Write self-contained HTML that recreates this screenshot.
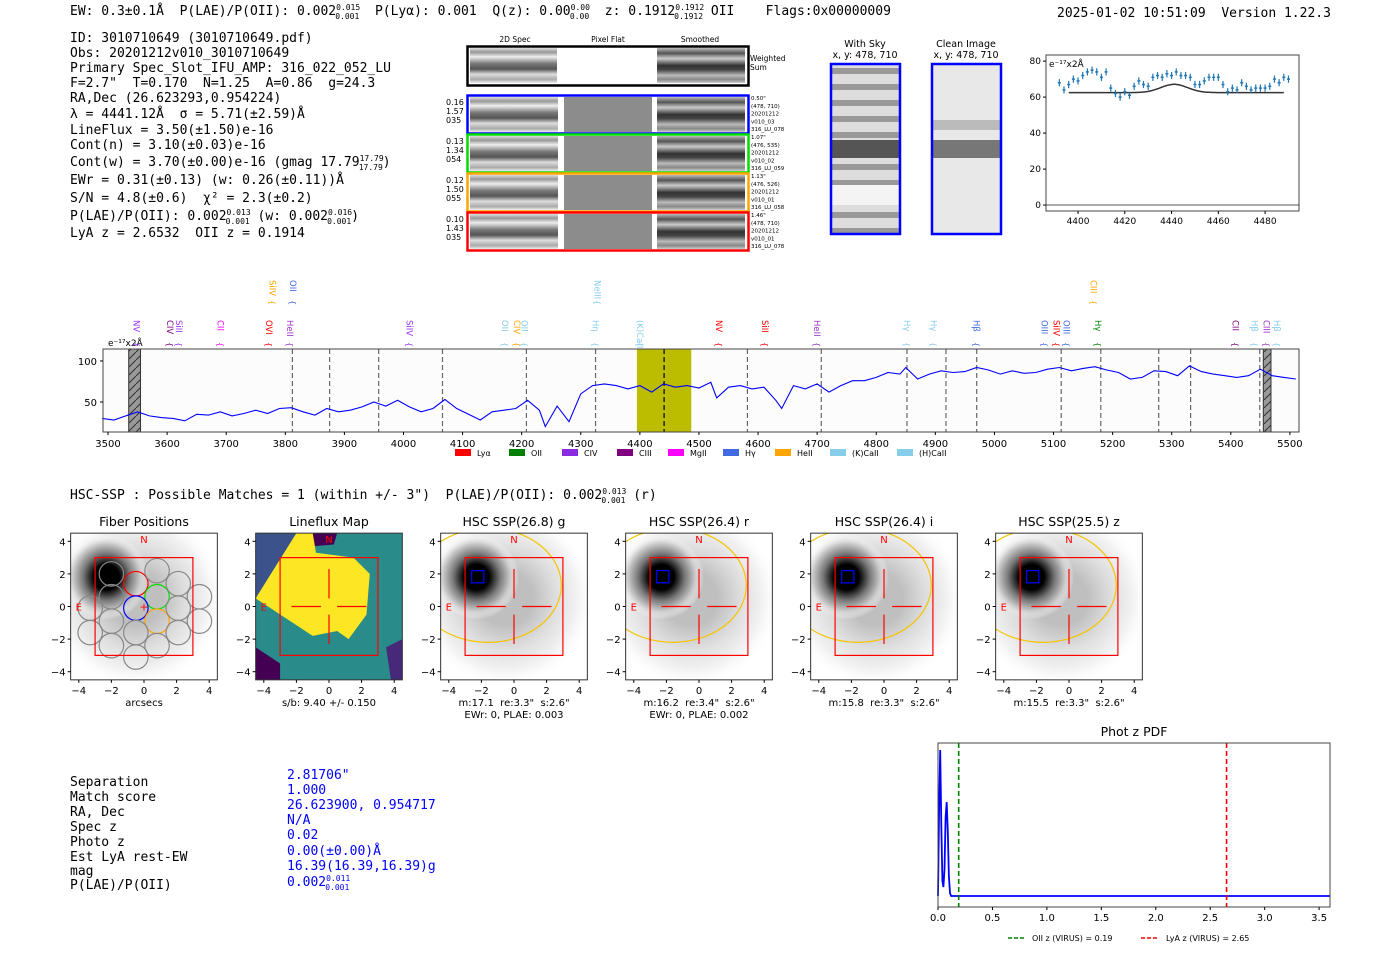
<!DOCTYPE html>
<html><head><meta charset="utf-8">
<style>
html,body{margin:0;padding:0;background:#fff;}
svg{display:block;font-family:"DejaVu Sans","Liberation Sans",sans-serif;}
text{white-space:pre;}
.mono{font-family:"DejaVu Sans Mono","Liberation Mono",monospace;font-size:13px;fill:#000;}
.t{font-size:10px;fill:#000;}
.ttl{font-size:12.5px;fill:#000;}
.blue{fill:#0000ff;}
</style></head>
<body>
<svg id="root" width="1400" height="953" viewBox="0 0 1400 953" xmlns="http://www.w3.org/2000/svg" xml:space="preserve">
<defs>
  <linearGradient id="stripes" x1="0" y1="0" x2="0" y2="1">
    <stop offset="0" stop-color="#ddd"/><stop offset="0.12" stop-color="#999"/><stop offset="0.25" stop-color="#eee"/>
    <stop offset="0.45" stop-color="#777"/><stop offset="0.6" stop-color="#555"/><stop offset="0.75" stop-color="#ddd"/>
    <stop offset="0.9" stop-color="#aaa"/><stop offset="1" stop-color="#eee"/>
  </linearGradient>
  <linearGradient id="stripes2" x1="0" y1="0" x2="0" y2="1">
    <stop offset="0" stop-color="#bbb"/><stop offset="0.15" stop-color="#555"/><stop offset="0.3" stop-color="#ccc"/>
    <stop offset="0.5" stop-color="#333"/><stop offset="0.62" stop-color="#444"/><stop offset="0.78" stop-color="#bbb"/>
    <stop offset="0.9" stop-color="#888"/><stop offset="1" stop-color="#ccc"/>
  </linearGradient>
  <pattern id="sky" width="68" height="16" patternUnits="userSpaceOnUse">
    <rect width="68" height="16" fill="#ddd"/><rect y="4" width="68" height="6" fill="#999"/>
  </pattern>
  <radialGradient id="blob" cx="0.5" cy="0.5" r="0.5">
    <stop offset="0" stop-color="#000"/><stop offset="0.3" stop-color="#000"/><stop offset="0.55" stop-color="#777"/>
    <stop offset="0.8" stop-color="#ccc"/><stop offset="1" stop-color="#fff" stop-opacity="0"/>
  </radialGradient>
  <pattern id="hatch" width="8" height="8" patternUnits="userSpaceOnUse">
    <rect width="8" height="8" fill="#999"/><path d="M0,8 L8,0" stroke="#333" stroke-width="1"/>
  </pattern>
</defs>

<text class="mono" x="70" y="15">EW: 0.3±0.1Å  P(LAE)/P(OII): 0.002<tspan font-size="8" dy="-5">0.015</tspan><tspan font-size="8" dx="-25" dy="9">0.001</tspan><tspan dy="-4">  P(Lyα): 0.001  Q(z): 0.00</tspan><tspan font-size="8" dy="-5">0.00</tspan><tspan font-size="8" dx="-20" dy="9">0.00</tspan><tspan dy="-4">  z: 0.1912</tspan><tspan font-size="8" dy="-5">0.1912</tspan><tspan font-size="8" dx="-30" dy="9">0.1912</tspan><tspan dy="-4"> OII    Flags:0x00000009</tspan></text>
<text class="mono" x="1057" y="17">2025-01-02 10:51:09  Version 1.22.3</text>

<g class="mono">
<text class="mono" x="70" y="42">ID: 3010710649 (3010710649.pdf)</text>
<text class="mono" x="70" y="57">Obs: 20201212v010_3010710649</text>
<text class="mono" x="70" y="72">Primary Spec_Slot_IFU_AMP: 316_022_052_LU</text>
<text class="mono" x="70" y="87">F=2.7"  T=0.170  N=1.25  A=0.86  g=24.3</text>
<text class="mono" x="70" y="102">RA,Dec (26.623293,0.954224)</text>
<text class="mono" x="70" y="118">λ = 4441.12Å  σ = 5.71(±2.59)Å</text>
<text class="mono" x="70" y="134">LineFlux = 3.50(±1.50)e-16</text>
<text class="mono" x="70" y="149">Cont(n) = 3.10(±0.03)e-16</text>
<text class="mono" x="70" y="166">Cont(w) = 3.70(±0.00)e-16 (gmag 17.79<tspan font-size="8" dy="-5">17.79</tspan><tspan font-size="8" dx="-25" dy="9">17.79</tspan><tspan dy="-4">)</tspan></text>
<text class="mono" x="70" y="184">EWr = 0.31(±0.13) (w: 0.26(±0.11))Å</text>
<text class="mono" x="70" y="202">S/N = 4.8(±0.6)  χ² = 2.3(±0.2)</text>
<text class="mono" x="70" y="220">P(LAE)/P(OII): 0.002<tspan font-size="8" dy="-5">0.013</tspan><tspan font-size="8" dx="-25" dy="9">0.001</tspan><tspan dy="-4"> (w: 0.002</tspan><tspan font-size="8" dy="-5">0.016</tspan><tspan font-size="8" dx="-25" dy="9">0.001</tspan><tspan dy="-4">)</tspan></text>
<text class="mono" x="70" y="237">LyA z = 2.6532  OII z = 0.1914</text>
</g>

<g>
<text x="515" y="42" font-size="7.5" text-anchor="middle">2D Spec</text>
<text x="608" y="42" font-size="7.5" text-anchor="middle">Pixel Flat</text>
<text x="700" y="42" font-size="7.5" text-anchor="middle">Smoothed</text>
<rect x="470" y="48" width="87" height="35" fill="url(#stripes)"/>
<rect x="657" y="48" width="88" height="35" fill="url(#stripes2)"/>
<rect x="467.5" y="46.5" width="281" height="39" fill="none" stroke="#000" stroke-width="2.5"/>
<text x="750" y="61" font-size="7.5">Weighted</text><text x="750" y="70" font-size="7.5">Sum</text>
<g id="fibrows"></g>
</g>

<g>
<text x="865" y="47" font-size="9.5" text-anchor="middle">With Sky</text>
<text x="865" y="58" font-size="9.5" text-anchor="middle">x, y: 478, 710</text>
<text x="966" y="47" font-size="9.5" text-anchor="middle">Clean Image</text>
<text x="966" y="58" font-size="9.5" text-anchor="middle">x, y: 478, 710</text>
<rect x="832" y="65" width="67" height="168" fill="url(#sky)"/>
<rect x="832" y="140" width="67" height="18" fill="#555"/>
<rect x="832" y="185" width="67" height="20" fill="#f4f4f4"/>
<rect x="831" y="64" width="69" height="170" fill="none" stroke="#0000ff" stroke-width="2.5"/>
<rect x="933" y="65" width="67" height="168" fill="#e8e8e8"/>
<rect x="933" y="140" width="67" height="18" fill="#777"/>
<rect x="933" y="120" width="67" height="10" fill="#bbb"/>
<rect x="932" y="64" width="69" height="170" fill="none" stroke="#0000ff" stroke-width="2.5"/>
</g>

<g id="zoomplot"></g>
<g id="spectrum"></g>

<text class="mono" x="70" y="499">HSC-SSP : Possible Matches = 1 (within +/- 3")  P(LAE)/P(OII): 0.002<tspan font-size="8" dy="-5">0.013</tspan><tspan font-size="8" dx="-25" dy="9">0.001</tspan><tspan dy="-4"> (r)</tspan></text>

<g id="panels"></g>

<g>
<text class="mono" x="70" y="786">Separation</text><text class="mono blue" x="287" y="779">2.81706"</text>
<text class="mono" x="70" y="801">Match score</text><text class="mono blue" x="287" y="794">1.000</text>
<text class="mono" x="70" y="816">RA, Dec</text><text class="mono blue" x="287" y="809">26.623900, 0.954717</text>
<text class="mono" x="70" y="831">Spec z</text><text class="mono blue" x="287" y="824">N/A</text>
<text class="mono" x="70" y="846">Photo z</text><text class="mono blue" x="287" y="839">0.02</text>
<text class="mono" x="70" y="861">Est LyA rest-EW</text><text class="mono blue" x="287" y="855">0.00(±0.00)Å</text>
<text class="mono" x="70" y="875">mag</text><text class="mono blue" x="287" y="870">16.39(16.39,16.39)g</text>
<text class="mono" x="70" y="889">P(LAE)/P(OII)</text><text class="mono blue" x="287" y="886">0.002<tspan font-size="8" dy="-5">0.011</tspan><tspan font-size="8" dx="-25" dy="9">0.001</tspan></text>
</g>

<g id="pdfplot"></g>
</svg>

<script>
const specWave = [3490,3510,3530,3550,3570,3590,3610,3630,3650,3670,3690,3710,3730,3750,3770,3790,3810,3830,3850,3870,3890,3910,3930,3950,3970,3990,4010,4030,4050,4070,4090,4110,4130,4150,4170,4190,4210,4230,4240,4260,4280,4300,4320,4340,4360,4380,4400,4420,4440,4460,4480,4500,4520,4530,4550,4570,4590,4610,4630,4640,4660,4680,4700,4720,4740,4760,4780,4800,4820,4840,4850,4870,4890,4910,4930,4950,4970,4990,5010,5030,5050,5070,5090,5110,5130,5150,5170,5190,5210,5230,5250,5270,5290,5310,5330,5350,5370,5390,5410,5430,5450,5470,5490,5510];
const specFlux = [30,28,33,38,33,31,30,27,35,34,38,33,36,40,36,42,43,38,34,42,38,40,44,50,45,52,44,38,42,53,42,35,28,38,40,42,52,40,20,45,26,60,70,72,70,66,70,62,72,68,70,67,74,55,68,70,66,68,52,42,70,66,72,62,70,76,76,80,86,84,92,78,84,88,86,87,92,89,84,88,85,86,90,92,88,91,93,89,86,78,80,88,87,82,94,87,84,82,80,82,90,82,80,78];
const specTicks = [3500,3600,3700,3800,3900,4000,4100,4200,4300,4400,4500,4600,4700,4800,4900,5000,5100,5200,5300,5400,5500];
const specYTicks = [50,100];
const lineMarks = [3812,3875,3958,4066,4208,4325,4441,4582,4707,4852,4918,4970,5113,5180,5278,5332,5449];
const lineLabels = [["NV",3548,"#9933ff",0],["CIV",3605,"#800080",0],["SiII",3620,"#9933ff",0],["CII",3690,"#ff00ff",0],["OVI",3772,"#ff0000",0],["HeII",3808,"#9932cc",0],["SiIV",4010,"#9933ff",0],["OII",4172,"#87ceeb",0],["CIV",4192,"#ffa500",0],["OII",4205,"#87ceeb",0],["Hη",4325,"#87ceeb",0],["(K)CaII",4400,"#87ceeb",0],["NV",4534,"#ff0000",0],["SiII",4612,"#ff0000",0],["HeII",4700,"#9932cc",0],["Hγ",4852,"#87ceeb",0],["Hγ",4897,"#87ceeb",0],["Hβ",4970,"#4169e1",0],["OIII",5085,"#4169e1",0],["SiIV",5105,"#ff0000",0],["OIII",5122,"#4169e1",0],["Hγ",5175,"#008000",0],["CII",5408,"#800080",0],["Hβ",5440,"#87ceeb",0],["CIII",5460,"#9932cc",0],["Hβ",5478,"#87ceeb",0],["SiIV",3778,"#ffa500",1],["OII",3813,"#4169e1",1],["NeIII",4328,"#87ceeb",1],["CIII",5168,"#ffa500",1]];
const legendNames = ["Lyα","OII","CIV","CIII","MgII","Hγ","HeII","(K)CaII","(H)CaII"];
const legendColors = ["#ff0000","#008000","#8a2be2","#800080","#ff00ff","#4169e1","#ffa500","#87ceeb","#87ceeb"];

const fitWave = [4392,4394,4396,4398,4400,4402,4404,4406,4408,4410,4412,4414,4416,4418,4420,4422,4424,4426,4428,4430,4432,4434,4436,4438,4440,4442,4444,4446,4448,4450,4452,4454,4456,4458,4460,4462,4464,4466,4468,4470,4472,4474,4476,4478,4480,4482,4484,4486,4488,4490];
const fitFlux = [68,64,67,70,69,72,74,75,74,71,74,65,62,60,63,61,66,69,67,66,71,72,71,73,72,74,72,72,71,67,67,69,71,71,71,67,63,65,64,68,66,64,65,65,65,66,70,68,71,70];
const fitErr = [2,2,2,2,2,2,2,2,2,2,2,2,2,2,2,2,2,2,2,2,2,2,2,2,2,2,2,2,2,2,2,2,2,2,2,2,2,2,2,2,2,2,2,2,2,2,2,2,2,2];
const fitParams = [4441.12, 5.71, 4.6, 62.5];
const fitXTicks = [4400,4420,4440,4460,4480];
const fitYTicks = [0,20,40,60,80];

const pdfZ = [0.0,0.01,0.02,0.03,0.04,0.05,0.06,0.07,0.08,0.09,0.1,0.11,0.12,0.14,0.2,0.5,1.0,2.0,3.0,3.6];
const pdfP = [0.02,0.6,1.0,0.5,0.12,0.08,0.2,0.55,0.65,0.45,0.15,0.04,0.02,0.02,0.02,0.02,0.02,0.02,0.02,0.02];
const pdfTicks = [0.0,0.5,1.0,1.5,2.0,2.5,3.0,3.5];
const zOII = 0.19, zLyA = 2.65;

const panelTitles = ["Fiber Positions","Lineflux Map","HSC SSP(26.8) g","HSC SSP(26.4) r","HSC SSP(26.4) i","HSC SSP(25.5) z"];
const panelCaps = [["arcsecs"],["s/b: 9.40 +/- 0.150"],['m:17.1  re:3.3"  s:2.6"',"EWr: 0, PLAE: 0.003"],['m:16.2  re:3.4"  s:2.6"',"EWr: 0, PLAE: 0.002"],['m:15.8  re:3.3"  s:2.6"'],['m:15.5  re:3.3"  s:2.6"']];
const imgTicks = [-4,-2,0,2,4];

const NS = "http://www.w3.org/2000/svg";
function mk(parent, tag, attrs, txt){ const e=document.createElementNS(NS,tag); for(const k in attrs) e.setAttribute(k,attrs[k]); if(txt!==undefined) e.textContent=txt; parent.appendChild(e); return e; }
const fmtTick = v => (v<0?"\u2212"+(-v):String(v));

(function(){
  const g=document.getElementById('fibrows');
  const cols=["#0000ff","#00dd00","#ffa500","#ff0000"];
  const left=[["0.16","1.57","035"],["0.13","1.34","054"],["0.12","1.50","055"],["0.10","1.43","035"]];
  const right=[['0.50"',"(478, 710)","20201212","v010_03","316_LU_078"],['1.07"',"(476, 535)","20201212","v010_02","316_LU_059"],['1.13"',"(476, 526)","20201212","v010_01","316_LU_058"],['1.46"',"(478, 710)","20201212","v010_01","316_LU_078"]];
  const tops=[95,134,173,212];
  for(let i=0;i<4;i++){
    const y=tops[i];
    const row=mk(g,'g',{});
    
    
    mk(row,'rect',{x:470,y:y+2,width:88,height:35,fill:'url(#stripes)'});
    mk(row,'rect',{x:564,y:y+2,width:88,height:35,fill:'#8c8c8c'});
    mk(row,'rect',{x:657,y:y+2,width:88,height:35,fill:'url(#stripes2)'});
    mk(row,'rect',{x:467.5,y:y+0.5,width:281,height:38,fill:'none',stroke:cols[i],'stroke-width':2.5});
    left[i].forEach((s,j)=>mk(row,'text',{x:446,y:y+10+j*9,'font-size':8},s));
    right[i].forEach((s,j)=>mk(row,'text',{x:751,y:y+5+j*7.8,'font-size':5.5},s));
  }
})();

(function(){
  const g=document.getElementById('zoomplot');
  const L=1046,R=1299,T=55,B=211, x0=4386.3,x1=4494.5, y0=-3.3,y1=83.4;
  const X=v=>L+(v-x0)/(x1-x0)*(R-L), Y=v=>B-(v-y0)/(y1-y0)*(B-T);
  mk(g,'line',{x1:L,x2:R,y1:Y(0),y2:Y(0),stroke:'#555','stroke-width':1});
  let d='';
  for(let w=4396; w<=4488; w+=0.5){ const m=fitParams[3]+fitParams[2]*Math.exp(-0.5*Math.pow((w-fitParams[0])/fitParams[1],2)); d+=(d?'L':'M')+X(w).toFixed(1)+','+Y(m).toFixed(1); }
  const model=mk(g,'path',{d:d,fill:'none',stroke:'#333','stroke-width':1.5});
  
  
  fitWave.forEach((w,i)=>{
    const pt=mk(g,'g',{});
    
    
    mk(pt,'line',{x1:X(w),x2:X(w),y1:Y(fitFlux[i]-fitErr[i]),y2:Y(fitFlux[i]+fitErr[i]),stroke:'#1f77b4','stroke-width':1.2});
    mk(pt,'line',{x1:X(w)-1.5,x2:X(w)+1.5,y1:Y(fitFlux[i]),y2:Y(fitFlux[i]),stroke:'#1f77b4','stroke-width':1.5});
  });
  mk(g,'rect',{x:L,y:T,width:R-L,height:B-T,fill:'none',stroke:'#444','stroke-width':1});
  fitXTicks.forEach(v=>{ mk(g,'line',{x1:X(v),x2:X(v),y1:B,y2:B+3,stroke:'#000'}); mk(g,'text',{x:X(v),y:B+13,'font-size':9,'text-anchor':'middle'},String(v)); });
  fitYTicks.forEach(v=>{ mk(g,'line',{x1:L-3,x2:L,y1:Y(v),y2:Y(v),stroke:'#000'}); mk(g,'text',{x:L-5,y:Y(v)+3,'font-size':9,'text-anchor':'end'},String(v)); });
  mk(g,'text',{x:L+3,y:T+12,'font-size':9},'e\u207B\u00B9\u2077x2Å');
})();

(function(){
  const g=document.getElementById('spectrum');
  const L=103,R=1299,T=349,B=432, x0=3491.5,x1=5515.4, y0=13.4,y1=114.6;
  const X=v=>L+(v-x0)/(x1-x0)*(R-L), Y=v=>B-(v-y0)/(y1-y0)*(B-T);
  mk(g,'rect',{x:L,y:T,width:R-L,height:B-T,fill:'#fcfcfc'});
  const yb=mk(g,'rect',{x:X(4395),y:T,width:X(4487)-X(4395),height:B-T,fill:'#bcbc00'});
  
  
  mk(g,'rect',{x:X(3535),y:T,width:X(3555)-X(3535),height:B-T,fill:'url(#hatch)',stroke:'#333'});
  mk(g,'rect',{x:X(5455),y:T,width:X(5468)-X(5455),height:B-T,fill:'url(#hatch)',stroke:'#333'});
  lineMarks.forEach(w=>{ const l=mk(g,'line',{x1:X(w),x2:X(w),y1:T,y2:B,stroke:(w===4441?'#000':'#666'),'stroke-width':1.2,'stroke-dasharray':'5,3'});   });
  let d=''; specWave.forEach((w,i)=>{ d+=(i?'L':'M')+X(w).toFixed(1)+','+Y(specFlux[i]).toFixed(1); });
  const p=mk(g,'path',{d:d,fill:'none',stroke:'#0000ff','stroke-width':1.1});
  
  
  mk(g,'rect',{x:L,y:T,width:R-L,height:B-T,fill:'none',stroke:'#444','stroke-width':1});
  specTicks.forEach(v=>{ mk(g,'line',{x1:X(v),x2:X(v),y1:B,y2:B+3,stroke:'#000'}); mk(g,'text',{x:X(v),y:B+15,'font-size':10,'text-anchor':'middle'},String(v)); });
  specYTicks.forEach(v=>{ mk(g,'line',{x1:L-3,x2:L,y1:Y(v),y2:Y(v),stroke:'#000'}); mk(g,'text',{x:L-6,y:Y(v)+4,'font-size':10,'text-anchor':'end'},String(v)); });
  mk(g,'text',{x:108,y:346,'font-size':9},'e\u207B\u00B9\u2077x2Å');
  lineLabels.forEach(a=>{
    const x=X(a[1]); const y0l=a[3]?280:320;
    const t=mk(g,'text',{x:x-3,y:y0l,'font-size':8.5,fill:a[2],transform:'rotate(90 '+(x-3)+' '+y0l+')'},a[0]);
    
    
    mk(g,'text',{x:x-3,y:y0l+(a[3]?20:22),'font-size':8,fill:a[2],transform:'rotate(90 '+(x-3)+' '+(y0l+(a[3]?20:22))+')'},'{');
  });
  const lx=[455,509,562,617,668,723,775,830,897];
  legendNames.forEach((n,i)=>{
    const e=mk(g,'g',{});
    
    
    mk(e,'rect',{x:lx[i],y:449,width:16,height:7,fill:legendColors[i]});
    mk(e,'text',{x:lx[i]+22,y:456,'font-size':8},n);
  });
})();

(function(){
  const g=document.getElementById('panels');
  for(let i=0;i<6;i++){
    const cx=144+185*i, cy=606.5, s=16.3;
    const L=cx-4.5*s, T=cy-4.5*s, W=9*s;
    const X=v=>cx+v*s, Y=v=>cy-v*s;
    const p=mk(g,'g',{});
    
    
    const clipId='clip'+i;
    const cp=mk(p,'clipPath',{id:clipId}); mk(cp,'rect',{x:L,y:T,width:W,height:W});
    const inner=mk(p,'g',{'clip-path':'url(#'+clipId+')'});
    if(i===1){
      mk(inner,'rect',{x:L,y:T,width:W,height:W,fill:'#2a8c8a'});
      mk(inner,'polygon',{points:[[X(-4.5),Y(4.5)],[X(-2),Y(4.5)],[X(-4.5),Y(0.5)]].join(' '),fill:'#3b528b'});
      mk(inner,'polygon',{points:[[X(-1.3),Y(4.5)],[X(0.5),Y(4.5)],[X(0.3),Y(3.8)],[X(-1),Y(3.7)]].join(' '),fill:'#440154'});
      mk(inner,'polygon',{points:[[X(-2),Y(4.5)],[X(-1),Y(4.5)],[X(-0.8),Y(3.3)],[X(1.5),Y(3)],[X(2.5),Y(2)],[X(2.3),Y(-0.5)],[X(1.2),Y(-2)],[X(0.5),Y(-1.5)],[X(-1),Y(-1.8)],[X(-4.5),Y(0.5)]].join(' '),fill:'#fde725'});
      mk(inner,'polygon',{points:[[X(-4.5),Y(-2.5)],[X(-3),Y(-3.5)],[X(-3),Y(-4.5)],[X(-4.5),Y(-4.5)]].join(' '),fill:'#440154'});
      mk(inner,'polygon',{points:[[X(3.5),Y(-2.5)],[X(4.5),Y(-2)],[X(4.5),Y(-4.5)],[X(3.8),Y(-4.5)]].join(' '),fill:'#482878'});
    } else {
      mk(inner,'rect',{x:L,y:T,width:W,height:W,fill:'#fff'});
      mk(inner,'ellipse',{cx:X(-0.5),cy:Y(0.5),rx:5.5*s,ry:5.5*s,fill:'url(#blob)',opacity:0.25});
      mk(inner,'ellipse',{cx:X(-2.3),cy:Y(1.8),rx:2.6*s,ry:2.6*s,fill:'url(#blob)'});
      if(i>=2){
        mk(inner,'ellipse',{cx:X(-1.6),cy:Y(1.3),rx:4.5*s,ry:3.5*s,fill:'none',stroke:'#f5c400','stroke-width':1.2});
        mk(inner,'rect',{x:X(-2.6),y:Y(2.2),width:0.75*s,height:0.75*s,fill:'none',stroke:'#0000ff','stroke-width':1.2});
      }
    }
    if(i===0){
      const fib=[[-2,2],[-0.5,1.4],[0.8,0.6],[-0.5,-0.1],[0.8,-0.9],[2.1,1.4],[2.1,-0.1],[3.4,0.6],[3.4,-0.9],[0.8,2.2],[-2,0.6],[-3.3,-0.1],[-2,-0.9],[-0.5,-1.6],[0.8,-2.4],[2.1,-1.6],[-3.3,-1.6],[-2,-2.4],[-0.5,-3.1]];
      const fc=['#888','#ff0000','#00dd00','#0000ff','#ffa500'];
      fib.forEach((f,j)=>mk(inner,'circle',{cx:X(f[0]),cy:Y(f[1]),r:0.75*s,fill:'none',stroke:fc[j]||'#888','stroke-width':1.2}));
    }
    mk(inner,'rect',{x:X(-3),y:Y(3),width:6*s,height:6*s,fill:'none',stroke:'#ff0000','stroke-width':1.2});
    if(i===0){ mk(inner,'text',{x:X(0),y:Y(0)+4,'font-size':11,fill:'#ff0000','text-anchor':'middle'},'+'); }
    else {
      [[-2.3,0,-0.5,0],[0.5,0,2.3,0],[0,2.3,0,0.5],[0,-0.5,0,-2.3]].forEach(c=>mk(inner,'line',{x1:X(c[0]),y1:Y(c[1]),x2:X(c[2]),y2:Y(c[3]),stroke:'#ff0000','stroke-width':1.2}));
    }
    mk(inner,'text',{x:X(0),y:Y(3.9),'font-size':10,fill:'#ff0000','text-anchor':'middle'},'N');
    mk(inner,'text',{x:X(-4),y:Y(0)+4,'font-size':10,fill:'#ff0000','text-anchor':'middle'},'E');
    mk(p,'rect',{x:L,y:T,width:W,height:W,fill:'none',stroke:'#333','stroke-width':1});
    imgTicks.forEach(v=>{
      mk(p,'line',{x1:X(v),x2:X(v),y1:T+W,y2:T+W+3,stroke:'#000'});
      mk(p,'text',{x:X(v),y:T+W+14,'font-size':10,'text-anchor':'middle'},fmtTick(v));
      mk(p,'line',{x1:L-3,x2:L,y1:Y(v),y2:Y(v),stroke:'#000'});
      mk(p,'text',{x:L-5,y:Y(v)+4,'font-size':10,'text-anchor':'end'},fmtTick(v));
    });
    mk(p,'text',{x:cx,y:T-7,'font-size':12.5,'text-anchor':'middle'},panelTitles[i]);
    panelCaps[i].forEach((c,j)=>mk(p,'text',{x:cx,y:T+W+26+j*12,'font-size':10,'text-anchor':'middle'},c));
  }
})();

(function(){
  const g=document.getElementById('pdfplot');
  const L=938,R=1330,T=743,B=907, x0=0,x1=3.6;
  const X=v=>L+(v-x0)/(x1-x0)*(R-L), Y=v=>B-8-v*(B-8-750);
  let d=''; pdfZ.forEach((z,i)=>{ d+=(i?'L':'M')+X(z).toFixed(1)+','+Y(pdfP[i]).toFixed(1); });
  const c=mk(g,'path',{d:d,fill:'none',stroke:'#0000ff','stroke-width':1.8});
  
  
  const l1=mk(g,'line',{x1:X(zOII),x2:X(zOII),y1:T,y2:B,stroke:'#008000','stroke-width':1.6,'stroke-dasharray':'5,3'});
  
  
  const l2=mk(g,'line',{x1:X(zLyA),x2:X(zLyA),y1:T,y2:B,stroke:'#ff0000','stroke-width':1.6,'stroke-dasharray':'5,3'});
  
  
  mk(g,'rect',{x:L,y:T,width:R-L,height:B-T,fill:'none',stroke:'#444','stroke-width':1});
  pdfTicks.forEach(v=>{ mk(g,'line',{x1:X(v),x2:X(v),y1:B,y2:B+3,stroke:'#000'}); mk(g,'text',{x:X(v),y:B+14,'font-size':10,'text-anchor':'middle'},v.toFixed(1)); });
  mk(g,'text',{x:1134,y:736,'font-size':12.5,'text-anchor':'middle'},'Phot z PDF');
  const e1=mk(g,'g',{});  
  mk(e1,'line',{x1:1008,x2:1026,y1:938,y2:938,stroke:'#008000','stroke-width':1.6,'stroke-dasharray':'4,2'});
  mk(e1,'text',{x:1032,y:941,'font-size':8},'OII z (VIRUS) = 0.19');
  const e2=mk(g,'g',{});  
  mk(e2,'line',{x1:1141,x2:1159,y1:938,y2:938,stroke:'#ff0000','stroke-width':1.6,'stroke-dasharray':'4,2'});
  mk(e2,'text',{x:1166,y:941,'font-size':8},'LyA z (VIRUS) = 2.65');
})();
</script>
</body></html>
